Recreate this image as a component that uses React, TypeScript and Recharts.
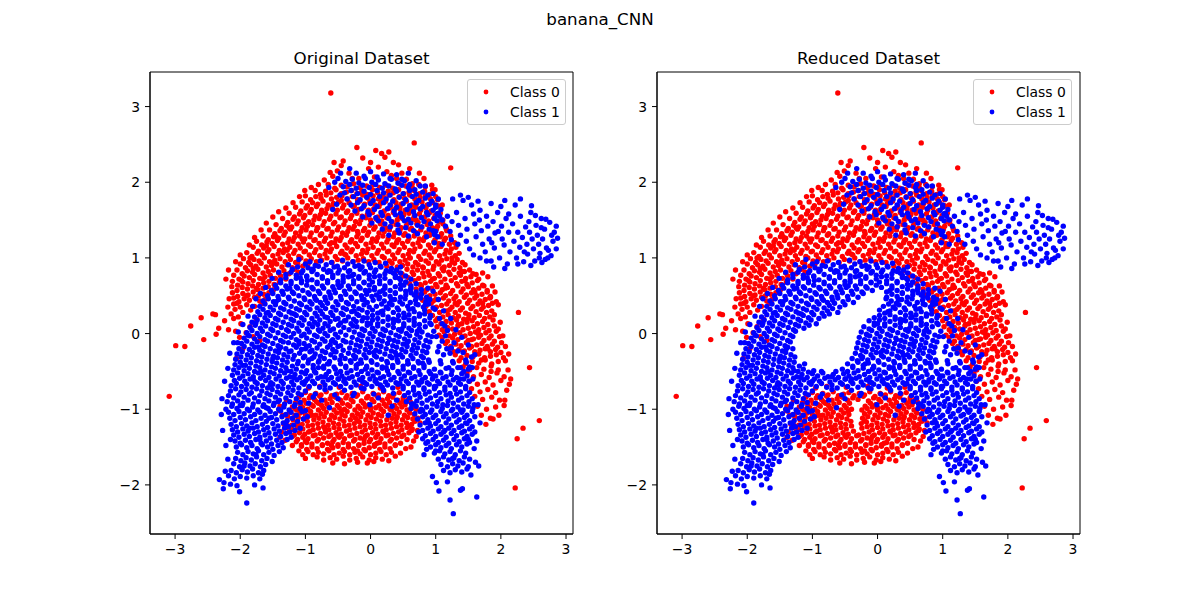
import React from 'react';
import { ScatterChart, Scatter, XAxis, YAxis, ReferenceArea } from 'recharts';

const figureTitle = 'banana_CNN';
const chartTitles = ['Original Dataset', 'Reduced Dataset'];
const seriesNames = ['Class 0', 'Class 1'];
const seriesColors = ['#ff0000', '#0000ff'];
const xTicks = [-3, -2, -1, 0, 1, 2, 3];
const yTicks = [-2, -1, 0, 1, 2, 3];
const xDomain: [number, number] = [-3.385, 3.107];
const yDomain: [number, number] = [-2.649, 3.457];

// values in hundredths: x,y, x,y, ...
// Class 0 points present in both datasets
const class0Main = [
  -61,318, 67,252, -21,246, 123,219, -309,-83, -299,-16, -285,-17, -276,10, -260,21, -256,-8, -242,26, -238,25, -237,-1, -233,7, -224,17, -218,5, -207,3, -210,20, -201,-5, 227,28, 244,-45, 259,-115, 234,-125, 225,-139, 222,-204, 213,-67, 206,-88, 188,-113, -170,-9, -206,-33, -185,9, -196,-20, -139,-137, -129,-124, 180,75, 183,47, 193,42,
  8,242, 17,238, 22,233, 28,240, 35,226, -12,232, 0,226, 43,223, -45,222, -33,212, -28,205, -3,218, 12,220, 25,214, 32,209, 48,212, 55,204, 60,218, 75,212, -18,205, 6,207, 40,205, 64,198, 82,205,
  -65,197, -55,192, -45,196, -36,194, -26,198, -16,193, -6,195, 4,197, 14,193, 24,196, 34,192, 44,198, 54,195, 64,193, 74,197, 84,194, 94,196,
  -85,189, -77,184, -69,188, -61,186, -53,190, -45,185, -37,187, -29,189, -21,185, -13,188, -5,184, 3,190, 11,186, 19,183, 27,188, 35,186, 43,190, 51,185, 59,187, 67,189, 75,185, 83,188, 91,184, 99,190,
  -100,182, -92,177, -84,181, -76,179, -68,183, -60,178, -52,180, -44,182, -36,178, -28,181, -20,177, -12,183, -4,179, 4,182, 12,178, 20,180, 28,183, 36,177, 44,181, 52,179, 60,183, 68,178, 76,180, 84,182, 92,178, 100,181,
  -105,174, -97,169, -89,173, -81,171, -73,175, -65,170, -57,172, -49,174, -41,170, -33,173, -25,169, -17,175, -9,171, -1,174, 7,170, 15,172, 23,175, 31,169, 39,173, 47,171, 55,175, 63,170, 71,172, 79,174, 87,170, 95,173, 103,169,
  -115,167, -107,162, -99,166, -91,164, -83,168, -75,163, -67,165, -59,167, -51,163, -43,166, -35,162, -27,168, -19,164, -11,167, -3,163, 5,165, 13,168, 21,162, 29,166, 37,164, 45,168, 53,163, 61,165, 69,167, 77,163, 85,166, 93,162, 101,168,
  -125,159, -117,154, -109,158, -101,156, -93,160, -85,155, -77,157, -69,159, -61,155, -53,158, -45,154, -37,160, -29,156, -21,159, -13,155, -5,157, 3,160, 11,154, 19,158, 27,156, 35,160, 43,155, 51,157, 59,159, 67,155, 75,158, 83,154, 91,160, 99,156, 107,159,
  -135,152, -127,147, -119,151, -111,149, -103,153, -95,148, -87,150, -79,152, -71,148, -63,151, -55,147, -47,153, -39,149, -31,152, -23,148, -15,150, -7,153, 1,147, 9,151, 17,149, 25,153, 33,148, 41,150, 49,152, 57,148, 65,151, 73,147, 81,153, 89,149, 97,152, 105,148, 111,150,
  -145,144, -137,139, -129,143, -121,141, -113,145, -105,140, -97,142, -89,144, -81,140, -73,143, -65,139, -57,145, -49,141, -41,144, -33,140, -25,142, -17,145, -9,139, -1,143, 7,141, 15,145, 23,140, 31,142, 39,144, 47,140, 55,143, 63,139, 71,145, 79,141, 87,144, 95,140, 103,142, 111,145, 116,139,
  -155,137, -147,132, -139,136, -131,134, -123,138, -115,133, -107,135, -99,137, -91,133, -83,136, -75,132, -67,138, -59,134, -51,137, -43,133, -35,135, -27,138, -19,132, -11,136, -3,134, 5,138, 13,133, 21,135, 29,137, 37,133, 45,136, 53,132, 61,138, 69,134, 77,137, 85,133, 93,135, 101,138, 109,132, 117,136,
  -165,129, -157,124, -149,128, -141,126, -133,130, -125,125, -117,127, -109,129, -101,125, -93,128, -85,124, -77,130, -69,126, -61,129, -53,125, -45,127, -37,130, -29,124, -21,128, -13,126, -5,130, 3,125, 11,127, 19,129, 27,125, 35,128, 43,124, 51,130, 59,126, 67,129, 75,125, 83,127, 91,130, 99,124, 107,128, 115,126, 123,129,
  -175,122, -167,117, -159,121, -151,119, -143,123, -135,118, -127,120, -119,122, -111,118, -103,121, -95,117, -87,123, -79,119, -71,122, -63,118, -55,120, -47,123, -39,117, -31,121, -23,119, -15,123, -7,118, 1,120, 9,122, 17,118, 25,121, 33,117, 41,123, 49,119, 57,122, 65,118, 73,120, 81,123, 89,117, 97,121, 105,119, 113,123, 121,118, 129,120,
  -180,114, -172,109, -164,113, -156,111, -148,115, -140,110, -132,112, -124,114, -116,110, -108,113, -100,109, -92,115, -84,111, -76,114, -68,110, -60,112, -52,115, -44,109, -36,113, -28,111, -20,115, -12,110, -4,112, 4,114, 12,110, 20,113, 28,109, 36,115, 44,111, 52,114, 60,110, 68,112, 76,115, 84,109, 92,113, 100,111, 108,115, 116,110, 124,112, 131,114,
  -190,107, -182,102, -174,106, -166,104, -158,108, -150,103, -142,105, -134,107, -126,103, -118,106, -110,102, -102,108, -94,104, -86,107, -78,103, -70,105, -62,108, -54,102, -46,106, -38,104, -30,108, -22,103, -14,105, -6,107, 2,103, 10,106, 18,102, 26,108, 34,104, 42,107, 50,103, 58,105, 66,108, 74,102, 82,106, 90,104, 98,108, 106,103, 114,105, 122,107, 130,103, 136,106,
  -195,99, -187,94, -179,98, -171,96, -163,100, -155,95, -147,97, -139,99, -131,95, -123,98, -115,94, -107,100, -99,96, -91,99, -83,95, -75,97, -67,100, -59,94, -51,98, -43,96, -35,100, -27,95, -19,97, -11,99, -3,95, 5,98, 13,94, 21,100, 29,96, 37,99, 45,95, 53,97, 61,100, 69,94, 77,98, 85,96, 93,100, 101,95, 109,97, 117,99, 125,95, 133,98, 141,94,
  -200,92, -192,87, -184,91, -176,89, -168,93, -160,88, -152,90, -144,92, -136,88, -128,91, -120,87, -112,93, -104,89, -96,92, 25,89, 33,93, 41,88, 49,90, 57,92, 65,88, 73,91, 81,87, 89,93, 97,89, 105,92, 113,88, 121,90, 129,93, 137,87, 145,91,
  -205,84, -197,79, -189,83, -181,81, -173,85, -165,80, -157,82, -149,84, -141,80, -133,83, -125,79, -117,85, -111,81, 40,83, 48,79, 56,85, 64,81, 72,84, 80,80, 88,82, 96,85, 104,79, 112,83, 120,81, 128,85, 136,80, 144,82, 152,84, 157,79,
  -210,77, -202,72, -194,76, -186,74, -178,78, -170,73, -162,75, -154,77, -146,73, -138,76, -130,72, 50,76, 58,74, 66,78, 74,73, 82,75, 90,77, 98,73, 106,76, 114,72, 122,78, 130,74, 138,77, 146,73, 154,75, 162,78, 166,72,
  -212,69, -204,64, -196,68, -188,66, -180,70, -172,65, -164,67, -156,69, -148,65, -140,68, 60,66, 68,70, 76,65, 84,67, 92,69, 100,65, 108,68, 116,64, 124,70, 132,66, 140,69, 148,65, 156,67, 164,70, 172,64,
  -213,62, -205,57, -197,61, -189,59, -181,63, -173,58, -165,60, -157,62, -149,58, 70,59, 78,63, 86,58, 94,60, 102,62, 110,58, 118,61, 126,57, 134,63, 142,59, 150,62, 158,58, 166,60, 174,63, 179,57,
  -212,54, -204,49, -196,53, -188,51, -180,55, -172,50, -164,52, -156,54, 75,51, 83,55, 91,50, 99,52, 107,54, 115,50, 123,53, 131,49, 139,55, 147,51, 155,54, 163,50, 171,52, 179,55, 184,49,
  -210,47, -202,42, -194,46, -186,44, -178,48, -170,43, -162,45, 80,44, 88,48, 96,43, 104,45, 112,47, 120,43, 128,46, 136,42, 144,48, 152,44, 160,47, 168,43, 176,45, 184,48,
  -210,39, -200,35, -190,38, -178,36, -166,40, 85,36, 93,40, 101,35, 109,37, 117,39, 125,35, 133,38, 141,34, 149,40, 157,36, 165,39, 173,35, 181,37, 187,40,
  -208,32, -196,28, -184,31, 90,29, 98,33, 106,28, 114,30, 122,32, 130,28, 138,31, 146,27, 154,33, 162,29, 170,32, 178,28, 186,30,
  -203,22, 95,24, 103,20, 111,22, 119,25, 127,21, 135,23, 143,19, 151,25, 159,21, 167,24, 175,20, 183,22, 190,25,
  100,17, 108,13, 116,16, 124,14, 132,18, 140,13, 148,15, 156,17, 164,13, 172,16, 180,12, 188,18,
  102,9, 110,5, 118,8, 126,6, 134,10, 142,5, 150,7, 158,9, 166,5, 174,8, 182,4, 190,10, 196,6,
  105,-2, 113,2, 121,-3, 129,-1, 137,1, 145,-3, 153,0, 161,2, 169,-2, 177,1, 185,-3, 193,3,
  110,-5, 118,-10, 126,-6, 134,-8, 142,-4, 150,-9, 158,-7, 166,-5, 174,-9, 182,-6, 190,-10, 198,-4,
  115,-13, 123,-17, 131,-14, 139,-16, 147,-12, 155,-17, 163,-15, 171,-13, 179,-17, 187,-14, 195,-18, 201,-12,
  120,-20, 128,-24, 136,-21, 144,-23, 152,-19, 160,-24, 168,-22, 176,-20, 184,-24, 192,-21, 200,-25,
  130,-28, 139,-32, 148,-29, 157,-31, 166,-27, 175,-32, 184,-30, 193,-28, 204,-32,
  136,-36, 146,-40, 156,-37, 166,-39, 176,-35, 186,-40, 196,-37, 207,-36,
  142,-44, 152,-48, 163,-45, 174,-47, 185,-43, 196,-48,
  148,-53, 158,-57, 170,-54, 182,-58, 194,-52, 205,-57,
  152,-63, 164,-67, 176,-64, 188,-68, 200,-62,
  155,-73, 168,-77, 180,-74, 192,-78,
  160,-83, 172,-87, 186,-84, 198,-88,
  164,-96, 178,-100, 192,-97, 170,-108, 184,-112,
  -100,-78, -92,-82, -84,-79, -76,-81, -68,-77, -60,-82, -52,-80, -44,-78, -36,-82, -28,-79, -20,-81, -12,-77, -4,-83, 4,-79, 12,-81, 20,-77, 28,-82, 36,-80, 44,-78, 52,-82,
  -110,-84, -102,-88, -94,-85, -86,-87, -78,-83, -70,-88, -62,-86, -54,-84, -46,-88, -38,-85, -30,-87, -22,-83, -14,-89, -6,-85, 2,-87, 10,-83, 18,-88, 26,-86, 34,-84, 42,-88, 50,-85, 58,-87,
  -115,-91, -107,-95, -99,-92, -91,-94, -83,-90, -75,-95, -67,-93, -59,-91, -51,-95, -43,-92, -19,-96, -11,-92, -3,-94, 5,-90, 13,-95, 21,-93, 29,-91, 37,-95, 45,-92, 53,-94, 61,-90,
  -120,-97, -112,-101, -104,-98, -96,-100, -88,-96, -80,-101, -72,-99, -64,-97, -56,-101, -48,-98, -40,-100, -24,-101, -16,-99, -8,-97, 0,-101, 8,-98, 16,-100, 24,-96, 32,-101, 40,-99, 48,-97, 56,-101, 64,-98,
  -124,-104, -116,-108, -108,-105, -100,-107, -92,-103, -84,-108, -76,-106, -68,-104, -60,-108, -52,-105, -44,-107, -20,-106, -12,-104, -4,-108, 4,-105, 12,-107, 20,-103, 28,-108, 36,-106, 44,-104, 52,-108, 60,-105, 67,-107,
  -127,-110, -119,-114, -111,-111, -103,-113, -95,-109, -87,-114, -79,-112, -71,-110, -63,-114, -55,-111, -47,-113, -23,-112, -15,-110, -7,-114, 1,-111, 9,-113, 17,-109, 25,-114, 33,-112, 41,-110, 49,-114, 57,-111, 65,-113,
  -129,-117, -121,-121, -113,-118, -105,-120, -97,-116, -89,-121, -81,-119, -73,-117, -65,-121, -57,-118, -49,-120, -41,-116, -25,-119, -17,-117, -9,-121, -1,-118, 7,-120, 15,-116, 23,-121, 31,-119, 39,-117, 47,-121, 55,-118, 63,-120, 68,-116,
  -128,-123, -120,-127, -112,-124, -104,-126, -96,-122, -88,-127, -80,-125, -72,-123, -64,-127, -56,-124, -48,-126, -40,-122, -24,-125, -16,-123, -8,-127, 0,-124, 8,-126, 16,-122, 24,-127, 32,-125, 40,-123, 48,-127, 56,-124, 64,-126,
  -125,-130, -117,-134, -109,-131, -101,-133, -93,-129, -85,-134, -77,-132, -69,-130, -61,-134, -53,-131, -45,-133, -37,-129, -29,-134, -21,-132, -13,-130, -5,-134, 3,-131, 11,-133, 19,-129, 27,-134, 35,-132, 43,-130, 51,-134, 59,-131, 63,-128,
  -120,-136, -112,-140, -104,-137, -96,-139, -88,-135, -80,-140, -72,-138, -64,-136, -56,-140, -48,-137, -40,-139, -32,-135, -24,-140, -16,-138, -8,-136, 0,-140, 8,-137, 16,-139, 24,-135, 32,-140, 40,-138, 48,-136, 56,-140,
  -114,-143, -106,-147, -98,-144, -90,-146, -82,-142, -74,-147, -66,-145, -58,-143, -50,-147, -42,-144, -34,-146, -26,-142, -18,-147, -10,-145, -2,-143, 6,-147, 14,-144, 22,-146, 30,-142, 38,-147, 46,-145,
  -106,-149, -98,-153, -90,-150, -82,-152, -74,-148, -66,-153, -58,-151, -50,-149, -42,-153, -34,-150, -26,-152, -18,-148, -10,-153, -2,-151, 6,-149, 14,-153, 22,-150, 30,-152, 38,-148,
  -96,-156, -88,-160, -80,-157, -72,-159, -64,-155, -56,-160, -48,-158, -40,-156, -32,-160, -24,-157, -16,-159, -8,-155, 0,-160, 8,-158, 16,-156, 24,-160, 32,-157,
  -82,-163, -72,-167, -62,-164, -52,-166, -42,-162, -32,-167, -22,-165, -12,-163, -2,-167, 8,-164, 18,-166,
  -58,-171, -40,-172, -20,-170, -5,-171, 5,-169,
  -135,-108, -133,-120, -139,-96, -129,-88, 70,-100, 73,-112, 72,-128, 66,-142, 54,-152, 46,-158, -104,-160,
];

// Class 0 scattered edge and in-between points, both datasets
const class0Fringe = [
  -222,72, -218,84, -207,95, -200,104, -186,117, -178,127, -168,137, -160,146, -150,154, -141,161, -130,166, -119,173, -109,181, -101,189, -91,193, -80,197, -71,203, -58,208, -51,215, -42,228, -56,226, -62,213,
  -217,46, -219,35, -214,26, -199,13, -191,1, -180,-4, -175,19,
  196,38, 199,15, 203,-3, 207,-17, 212,-27, 211,-48, 215,-60, 209,-75, 205,-95, 197,-108, 177,-120, 191,55, 187,63, 172,80, 95,190, 103,177, 110,170,
  -140,-102, -137,-130, -131,-141, -120,-148, -110,-155, -100,-165, 62,-150, 38,-162, 28,-168, 70,-136, 76,-118,
  -180,86, -165,72, -150,93, -128,110, -105,125, -82,140, -60,120, -40,105, -20,135, 0,150, 20,140, 40,120, 60,100, 80,88, 95,72, 115,60, 130,40, 150,20, 165,0, 180,-20,
  140,82, 125,100, 105,115, 88,130, 70,150, 45,165, 15,178, -15,186, -45,176, -75,160, -100,145, -125,140, -145,128, -160,116, -185,100, -198,70, -190,50, -175,60, -205,40,
  100,45, 118,30, 135,12, 155,-8, 170,-35, 185,-50, 160,55, 172,40, 145,70, 110,86,
  -110,-121, -90,-108, -70,-126, -50,-135, -20,-115, 0,-98, 20,-130, 40,-112, 60,-122, -100,-142, -60,-148, -20,-155, 10,-145, 30,-100, -80,-92, 50,-90, -115,-100, -45,-103, -10,-140, -95,-130,
  -95,-72, -78,-70, -48,-71, -15,-70, 15,-72, 42,-71,
];

// Class 0 points only in the original dataset
const class0Slit = [
  -35,-94, -27,-90, -32,-96, -36,-103, -28,-108, -39,-109, -31,-114, -33,-121, -32,-127,
];

// Class 1 points present in both datasets
const class1Main = [
  // upper cluster
  -32,218, -22,212, -10,208, 0,214, 10,207, 20,211, 30,205, 40,210, 48,204,
  -38,201, -28,204, -18,199, -8,205, 2,200, 12,203, 22,198, 32,204, 42,199, 52,202, 60,197,
  -42,194, -32,197, -22,192, -12,196, -2,193, 8,197, 18,192, 28,195, 38,191, 48,196, 58,193, 68,190, 76,195,
  -40,186, -30,189, -20,185, -10,188, 0,184, 10,189, 20,186, 30,183, 40,188, 50,185, 60,189, 70,184, 80,187, 88,183,
  -36,178, -26,181, -16,177, -6,180, 4,176, 14,181, 24,178, 34,175, 44,180, 54,177, 64,181, 74,176, 84,179, 94,175,
  -30,170, -20,173, -10,169, 0,172, 10,168, 20,173, 30,170, 40,167, 50,172, 60,169, 70,173, 80,168, 90,171, 100,167,
  -24,162, -14,165, -4,161, 6,164, 16,160, 26,165, 36,162, 46,159, 56,164, 66,161, 76,165, 86,160, 96,163, 104,159,
  -12,154, -2,157, 8,153, 18,156, 28,152, 38,157, 48,154, 58,151, 68,156, 78,153, 88,157, 98,152, 106,155,
  2,146, 12,149, 22,145, 32,148, 42,144, 52,149, 62,146, 72,143, 82,148, 92,145, 102,149,
  18,138, 30,141, 42,137, 54,140, 66,136, 78,141, 90,138, 100,135,
  28,130, 44,133, 58,129, 72,132, 86,128, 98,131,
  -64,193, -47,183, -52,171, -58,164,
  // right wing
  102,158, 110,150, 108,164, 118,155, 115,142, 125,148, 122,135, 132,160, 135,143, 138,130, 142,176, 145,152, 148,138, 147,122, 155,170, 158,158, 152,112, 160,145, 162,128, 158,104,
  168,163, 170,136, 172,118, 167,150, 178,155, 180,142, 182,125, 176,108, 185,96, 188,148, 191,133, 190,113, 195,160, 198,100, 201,142, 202,125, 205,117, 208,152, 210,92, 212,134,
  214,108, 218,145, 220,122, 222,170, 224,100, 226,134, 229,114, 230,155, 233,127, 235,95, 238,141, 240,118, 241,105, 244,134, 246,160, 248,125, 250,112, 252,96, 254,143, 256,130,
  258,118, 260,106, 262,152, 264,125, 267,138, 270,113, 272,100, 275,147, 278,130, 280,122, 282,134, 273,110, 268,98, 230,178, 212,158, 200,168, 185,172, 165,175, 150,180, 186,120,
  196,135, 236,108, 243,148, 259,100, 262,140, 96,136, 103,128, 110,118, 98,120,
  // main body
  -100,92, -93,95, -85,90, -77,96, -68,91, -60,94, -51,89, -43,97, -35,92, -27,95, -18,90, -10,96, -2,91, 7,94, 15,89, 23,93,
  -120,85, -112,88, -104,83, -96,87, -88,84, -80,89, -72,85, -64,83, -56,88, -48,84, -40,87, -32,83, -24,89, -16,85, -8,82, 0,87, 8,84, 16,88, 24,83, 32,86, 40,84, 46,88,
  -130,78, -122,81, -114,77, -106,80, -98,76, -90,82, -82,78, -74,75, -66,81, -58,77, -50,80, -42,76, -34,82, -26,78, -18,75, -10,80, -2,77, 6,81, 14,76, 22,79, 30,82, 38,77, 46,80, 54,76,
  -138,71, -130,74, -122,69, -114,73, -106,70, -98,75, -90,71, -82,68, -74,73, -66,70, -58,74, -50,69, -42,72, -34,75, -26,70, -18,73, -10,68, -2,72, 6,75, 14,70, 22,73, 30,69, 38,74, 46,71, 54,68, 62,72,
  -146,64, -138,67, -130,63, -122,66, -114,62, -106,67, -98,64, -90,61, -82,66, -74,63, -66,67, -58,62, -50,65, -42,68, -34,63, -26,66, -18,62, -10,67, -2,64, 6,61, 14,66, 22,63, 30,67, 38,62, 46,65, 54,68, 62,63, 70,66,
  -152,57, -144,60, -136,56, -128,59, -120,55, -112,60, -104,57, -96,54, -88,59, -80,56, -72,60, -64,55, -56,58, -48,61, -40,56, -32,59, -24,55, -16,60, -8,57, 14,55, 22,60, 30,57, 38,54, 46,59, 54,56, 62,60, 70,55, 78,58,
  -158,50, -150,53, -142,49, -134,52, -126,48, -118,53, -110,50, -102,47, -94,52, -86,49, -78,53, -70,48, -62,51, -54,54, -46,49, -38,52, -30,48, -22,53, 14,48, 22,52, 30,49, 38,53, 46,48, 54,51, 62,54, 70,49, 78,52, 86,48,
  -165,43, -157,46, -149,42, -141,45, -133,41, -125,46, -117,43, -109,40, -101,45, -93,42, -85,46, -77,41, -69,44, -61,47, -53,42, -45,45, -37,41, 13,46, 21,43, 29,40, 37,45, 45,42, 53,46, 61,41, 69,44, 77,47, 85,42, 91,45,
  -170,36, -162,39, -154,35, -146,38, -138,34, -130,39, -122,36, -114,33, -106,38, -98,35, -90,39, -82,34, -74,37, -66,40, -58,35, -50,38, 9,36, 17,39, 25,35, 33,38, 41,34, 49,39, 57,36, 65,33, 73,38, 81,35, 89,39, 96,34,
  -173,29, -165,32, -157,28, -149,31, -141,27, -133,32, -125,29, -117,26, -109,31, -101,28, -93,32, -85,27, -77,30, -69,33, -61,28, 3,31, 11,27, 19,30, 27,33, 35,28, 43,31, 51,27, 59,32, 67,29, 75,26, 83,31, 99,32,
  -178,22, -170,25, -162,21, -154,24, -146,20, -138,25, -130,22, -122,19, -114,24, -106,21, -98,25, -90,20, -82,23, -74,26, -5,21, 3,24, 11,20, 19,25, 27,22, 35,19, 43,24, 51,21, 59,25, 67,20, 75,23, 83,26, 91,21, 106,20,
  -182,15, -174,18, -166,14, -158,17, -150,13, -142,18, -134,15, -126,12, -118,17, -110,14, -102,18, -94,13, -13,17, -5,14, 3,18, 11,13, 19,16, 27,19, 35,14, 43,17, 51,13, 59,18, 67,15, 75,12, 83,17, 91,14, 110,13,
  -185,8, -177,11, -169,7, -161,10, -153,6, -145,11, -137,8, -129,5, -121,10, -113,7, -105,11, -21,9, -13,6, -5,11, 3,7, 11,10, 19,6, 27,11, 35,8, 43,5, 51,10, 59,7, 67,11, 75,6, 84,9, 93,12, 114,10,
  -190,1, -182,4, -174,0, -166,3, -158,-1, -150,4, -142,1, -134,-2, -126,3, -25,2, -17,-1, -9,4, -1,0, 7,3, 15,-1, 23,4, 31,1, 39,-2, 47,3, 55,0, 63,4, 71,-1, 79,2, 88,-2, 97,3, 118,4,
  -194,-6, -186,-3, -178,-7, -170,-4, -162,-8, -154,-3, -146,-6, -138,-9, -130,-4, -28,-5, -20,-8, -12,-3, -4,-7, 4,-4, 12,-8, 20,-3, 28,-6, 36,-9, 44,-4, 52,-7, 60,-3, 68,-8, 76,-5, 85,-9, 94,-4, 115,-3,
  -198,-13, -190,-10, -182,-14, -174,-11, -166,-15, -158,-10, -150,-13, -142,-16, -134,-11, -30,-12, -22,-15, -14,-10, -6,-14, 2,-11, 10,-15, 18,-10, 26,-13, 34,-16, 42,-11, 50,-14, 58,-10, 66,-15, 74,-12, 82,-16, 91,-11, 110,-10, 128,-12,
  -202,-20, -194,-17, -186,-21, -178,-18, -170,-22, -162,-17, -154,-20, -146,-23, -138,-18, -130,-20, -32,-19, -24,-22, -16,-17, -8,-21, 0,-18, 8,-22, 16,-17, 24,-20, 32,-23, 40,-18, 48,-21, 56,-17, 64,-22, 72,-19, 80,-23, 88,-18, 105,-17, 124,-19, 134,-23,
  -205,-27, -197,-24, -189,-28, -181,-25, -173,-29, -165,-24, -157,-27, -149,-30, -141,-25, -133,-28, -34,-26, -26,-29, -18,-24, -10,-28, -2,-25, 6,-29, 14,-24, 22,-27, 30,-30, 38,-25, 46,-28, 54,-24, 62,-29, 70,-26, 78,-30, 86,-25, 103,-24, 122,-26, 142,-25,
  -207,-34, -199,-31, -191,-35, -183,-32, -175,-36, -167,-31, -159,-34, -151,-37, -143,-32, -135,-35, -127,-31, -39,-33, -31,-36, -23,-31, -15,-35, -7,-32, 1,-36, 9,-31, 17,-34, 25,-37, 33,-32, 41,-35, 49,-31, 57,-36, 65,-33, 73,-37, 81,-32, 89,-35, 107,-36, 126,-37, 146,-35, 155,-31,
  -208,-41, -200,-38, -192,-42, -184,-39, -176,-43, -168,-38, -160,-41, -152,-44, -144,-39, -136,-42, -128,-38, -120,-43, -112,-40, -46,-40, -38,-43, -30,-38, -22,-42, -14,-39, -6,-43, 2,-38, 10,-41, 18,-44, 26,-39, 34,-42, 42,-38, 50,-43, 58,-40, 66,-44, 74,-39, 82,-42, 90,-38, 108,-40, 127,-39, 147,-38, 152,-44,
  -210,-48, -202,-45, -194,-49, -186,-46, -178,-50, -170,-45, -162,-48, -154,-51, -146,-46, -138,-49, -130,-45, -122,-50, -114,-47, -106,-51, -98,-49, -64,-50, -54,-47, -46,-50, -38,-45, -30,-49, -22,-46, -14,-50, -6,-45, 2,-48, 10,-51, 18,-46, 26,-49, 34,-45, 42,-50, 50,-47, 58,-51, 66,-46, 74,-49, 82,-45, 90,-50, 98,-47, 107,-51, 116,-46, 125,-49, 134,-45, 143,-50, 150,-47,
  -212,-55, -204,-52, -196,-56, -188,-53, -180,-57, -172,-52, -164,-55, -156,-58, -148,-53, -140,-56, -132,-52, -124,-57, -116,-54, -108,-58, -100,-53, -92,-56, -84,-52, -76,-57, -68,-54, -60,-58, -52,-53, -44,-56, -36,-52, -28,-57, -20,-54, -12,-58, -4,-53, 4,-56, 12,-52, 20,-57, 28,-54, 36,-58, 44,-53, 52,-56, 60,-52, 68,-57, 76,-54, 84,-58, 92,-53, 100,-56, 108,-52, 116,-57, 124,-54, 132,-58, 140,-53, 148,-56,
  -209,-62, -201,-59, -193,-63, -185,-60, -177,-64, -169,-59, -161,-62, -153,-65, -145,-60, -137,-63, -129,-59, -121,-64, -113,-61, -105,-65, -97,-60, -89,-63, -81,-59, -73,-64, -65,-61, -57,-65, -49,-60, -41,-63, -33,-59, -25,-64, -17,-61, -9,-65, -1,-60, 7,-63, 15,-59, 23,-64, 31,-61, 39,-65, 47,-60, 55,-63, 63,-59, 71,-64, 79,-61, 87,-65, 95,-60, 103,-63, 111,-59, 119,-64, 127,-61, 135,-65, 143,-60, 151,-63,
  -214,-69, -206,-66, -198,-70, -190,-67, -182,-71, -174,-66, -166,-69, -158,-72, -150,-67, -142,-70, -134,-66, -126,-71, -118,-68, -110,-72, -102,-67, -94,-70, -86,-66, -78,-71, -70,-68, -62,-72, -54,-67, -46,-70, -38,-66, -30,-71, -22,-68, -14,-72, -6,-67, 2,-70, 10,-66, 18,-71, 26,-68, 34,-72, 42,-67, 50,-70, 58,-66, 66,-71, 74,-68, 82,-72, 90,-67, 98,-70, 106,-66, 114,-71, 122,-68, 130,-72, 138,-67, 146,-70,
  -215,-76, -207,-73, -199,-77, -191,-74, -183,-78, -175,-73, -167,-76, -159,-79, -151,-74, -143,-77, -135,-73, -127,-78, -119,-75, -111,-79, -100,-76, -85,-80, -70,-74, -55,-81, -40,-75, -25,-79, -10,-73, 5,-80, 20,-75, 35,-79, 50,-73, 58,-78, 66,-75, 74,-79, 82,-74, 90,-77, 98,-73, 106,-78, 114,-75, 122,-79, 130,-74, 138,-77, 146,-73, 152,-78,
  -88,-84, -63,-98, -1,-94, 27,-108, -27,-82, -50,-86, 12,-85, 40,-88, -75,-88, 33,-96, -95,-92,
  // left arm
  -218,-82, -210,-85, -202,-81, -194,-84, -186,-80, -178,-85, -170,-82, -162,-86, -154,-81, -146,-84, -138,-80, -130,-85, -122,-82, -114,-86, -106,-81,
  -220,-90, -212,-93, -204,-89, -196,-92, -188,-88, -180,-93, -172,-90, -164,-94, -156,-89, -148,-92, -140,-88, -132,-93, -124,-90, -116,-94, -108,-91,
  -222,-100, -213,-96, -205,-99, -197,-95, -189,-100, -181,-97, -173,-101, -165,-96, -157,-99, -149,-95, -141,-100, -133,-97, -125,-101, -117,-96, -108,-99, -100,-102,
  -218,-104, -210,-107, -202,-103, -194,-106, -186,-102, -178,-107, -170,-104, -162,-108, -154,-103, -146,-106, -138,-102, -130,-107, -122,-104, -114,-108, -105,-103, -97,-110,
  -216,-112, -208,-115, -200,-111, -192,-114, -184,-110, -176,-115, -168,-112, -160,-116, -152,-111, -144,-114, -136,-110, -128,-115, -120,-112, -112,-116, -103,-113,
  -214,-120, -206,-123, -198,-119, -190,-122, -182,-118, -174,-123, -166,-120, -158,-124, -150,-119, -142,-122, -134,-118, -126,-123, -118,-121, -108,-125,
  -212,-127, -204,-130, -196,-126, -188,-129, -180,-125, -172,-130, -164,-127, -156,-131, -148,-126, -140,-129, -132,-125, -124,-130, -116,-128,
  -210,-134, -202,-137, -194,-133, -186,-136, -178,-132, -170,-137, -162,-134, -154,-138, -146,-133, -138,-136, -130,-132, -122,-137,
  -208,-142, -200,-145, -192,-141, -184,-144, -176,-140, -168,-145, -160,-142, -152,-146, -144,-141, -136,-144, -128,-140,
  -206,-150, -198,-147, -190,-151, -182,-148, -174,-152, -166,-147, -158,-150, -150,-153, -142,-148, -134,-151,
  -204,-157, -196,-160, -188,-156, -180,-159, -172,-155, -164,-160, -156,-157, -148,-161, -140,-156,
  -207,-165, -199,-168, -191,-164, -183,-167, -175,-163, -167,-168, -159,-165, -151,-169,
  -210,-172, -201,-176, -193,-171, -185,-175, -177,-172, -169,-176, -161,-173,
  -214,-181, -206,-184, -197,-180, -189,-183, -181,-179, -172,-184, -164,-181,
  -218,-188, -209,-192, -200,-189, -190,-191, -180,-188, -170,-192, -166,-186,
  -225,-197, -215,-199, -201,-209, -190,-224, -165,-204, -178,-200, -205,-201,
  // right arm
  52,-82, 60,-85, 68,-81, 76,-84, 84,-80, 92,-85, 100,-82, 108,-86, 116,-81, 124,-84, 132,-80, 140,-85, 148,-82, 156,-86,
  55,-90, 63,-93, 71,-89, 79,-92, 87,-88, 95,-93, 103,-90, 111,-94, 119,-89, 127,-92, 135,-88, 143,-93, 151,-90, 159,-94,
  62,-99, 70,-96, 78,-100, 86,-97, 94,-101, 102,-96, 110,-99, 118,-95, 126,-100, 134,-97, 142,-101, 150,-96, 157,-99,
  68,-106, 76,-103, 84,-107, 92,-104, 100,-108, 108,-103, 116,-106, 124,-102, 132,-107, 140,-104, 148,-108, 156,-103,
  72,-113, 80,-110, 88,-114, 96,-111, 104,-115, 112,-110, 120,-113, 128,-109, 136,-114, 144,-111, 152,-115, 160,-110,
  76,-121, 84,-118, 92,-122, 100,-119, 108,-123, 116,-118, 124,-121, 132,-117, 140,-122, 148,-119, 156,-123,
  80,-128, 88,-125, 96,-129, 104,-126, 112,-130, 120,-125, 128,-128, 136,-124, 144,-129, 152,-126, 160,-130,
  84,-135, 92,-132, 100,-136, 108,-133, 116,-137, 124,-132, 132,-135, 140,-131, 148,-136, 156,-133,
  88,-143, 96,-140, 104,-144, 112,-141, 120,-145, 128,-140, 136,-143, 144,-139, 152,-144,
  92,-150, 100,-147, 108,-151, 116,-148, 124,-152, 132,-147, 140,-150, 148,-146,
  98,-158, 106,-155, 114,-159, 122,-156, 130,-160, 138,-155, 146,-158,
  104,-166, 112,-163, 120,-167, 128,-164, 136,-168, 144,-163, 152,-166,
  108,-173, 118,-176, 126,-172, 134,-175, 142,-171, 150,-176, 166,-175,
  112,-181, 122,-184, 130,-180, 140,-183, 148,-179,
  95,-189, 105,-208, 127,-238, 122,-220, 138,-207, 141,-205, 163,-216, 85,-145, 82,-160,
];

// Class 1 scattered edge and in-between points, both datasets
const class1Fringe = [
  -110,98, -126,91, -141,81, -151,73, -161,61, -169,53, -176,46, -181,36, -188,23, -196,12, -203,2, -210,-12, -216,-26, -219,-46, -224,-63, -228,-86, -229,-107, -227,-128, -222,-148, -219,-166, -223,-182, -226,-205, -232,-193,
  165,-94, 168,-118, 163,-142, 159,-152, 161,-170, 154,-187, 118,-196, 101,-197, 86,-153, 80,-139, 74,-130, 157,-60, 156,-45, 160,-28, 150,-15, 140,-5, 131,5, 123,20, 112,30, 104,45, 96,56, 88,60,
  100,170, 126,178, 138,183, 206,176, 247,169, 253,156, 269,151, 285,142, 287,126, 285,112, 277,103, 263,94, 246,90, 226,92, 206,86, 189,88, 178,96, 168,100, 134,118, 124,124,
  -50,205, -46,212, -55,200, 58,212, 70,202, 84,195, 96,185, 104,178,
  -135,55, -121,27, -97,70, -83,44, -61,82, -45,63, -29,76, -13,88, 3,68, 19,57, 35,80, 51,64, 67,51, 84,38, 92,24, 72,3, 56,-12, 40,-29, 24,-45, 8,-61,
  -8,-47, -24,-33, -16,-2, 0,13, 16,29, 32,45, 48,6, 64,-21, 80,-39, 96,-56, 112,-28, 120,-45, 137,-60, 100,-70, 78,-64, 45,-66, 15,-68, -12,-64, -40,-60, -70,-57,
  -100,-63, -128,-49, -150,-33, -172,-18, -188,-2, -176,14, -160,27, -145,42, -124,60, -108,74, -90,85, -154,-68, -180,-60, -196,-42, -204,-12, -168,-50, -140,-20, -118,-58, -86,-50, -50,-60,
  -19,-40, 5,-25, 29,-8, 53,22, 70,39, 61,58, 44,73, 24,35, 40,18, 57,-40, 86,-25, 101,-4, 117,-20, 138,-45,
  -200,-95, -186,-125, -170,-140, -156,-112, -142,-90, -176,-160, -194,-175, -160,-98, -130,-120, -215,-140,
  90,-118, 114,-128, 138,-101, 100,-155, 126,-165, 146,-118, 80,-102, 66,-93, 150,-140,
];

// Class 1 points only in the original dataset
const class1Hole = [
  -2,57, 6,58,
  -14,50, -6,52, 2,49, 9,51,
  -29,46, -21,42, -13,45, -5,41, 4,44,
  -42,34, -34,39, -26,36, -18,33, -10,38, -2,35,
  -53,31, -45,27, -37,32, -29,29, -21,26, -13,31, -5,28,
  -66,21, -58,24, -50,20, -42,25, -34,22, -26,19, -18,24, -11,21,
  -86,15, -78,18, -70,13, -62,16, -54,19, -46,14, -38,17, -30,13, -22,16,
  -97,6, -89,9, -81,12, -73,7, -65,10, -57,6, -49,11, -41,8, -33,5, -27,10,
  -118,0, -110,3, -102,-1, -94,2, -86,-2, -78,3, -70,0, -62,4, -54,-1, -46,2, -38,-2,
  -122,-5, -114,-8, -106,-3, -98,-6, -90,-9, -82,-4, -74,-7, -66,-3, -58,-8, -50,-5, -42,-9,
  -126,-12, -118,-15, -110,-10, -102,-13, -94,-16, -86,-11, -78,-14, -70,-10, -62,-15, -54,-12, -46,-16, -38,-11,
  -122,-23, -114,-18, -106,-21, -98,-17, -90,-22, -82,-19, -74,-23, -66,-18, -58,-21, -50,-17, -42,-22,
  -125,-24, -117,-29, -109,-26, -101,-30, -93,-24, -85,-27, -77,-30, -69,-25, -61,-28, -53,-24, -45,-29,
  -119,-34, -111,-37, -103,-32, -95,-35, -87,-31, -79,-36, -71,-33, -63,-37, -55,-32, -47,-35,
  -104,-43, -96,-39, -88,-42, -80,-38, -72,-43, -64,-40, -56,-44,
  -88,-46, -80,-45, -72,-46,
  -100,-20, -80,5, -60,-10, -90,-33, -66,-40, -110,-14, -40,17, -25,30, -10,45, -70,22, -55,-24,
];

type Pt = { x: number; y: number };
function toPoints(flat: number[]): Pt[] {
  const out: Pt[] = [];
  for (let i = 0; i + 1 < flat.length; i += 2) out.push({ x: flat[i] / 100, y: flat[i + 1] / 100 });
  return out;
}

const originalRed = toPoints([...class0Main, ...class0Fringe, ...class0Slit]);
const originalBlue = toPoints([...class1Main, ...class1Fringe, ...class1Hole]);
const reducedRed = toPoints([...class0Main, ...class0Fringe]);
const reducedBlue = toPoints([...class1Main, ...class1Fringe]);

const FONT = '"DejaVu Sans", Verdana, sans-serif';
const fmt = (v: number) => String(v).replace('-', '\u2212');
const DOT_R = 2.7;

const makeDot = (color: string) => (props: any) => {
  const { cx, cy } = props;
  if (cx == null || cy == null) return <g />;
  return <circle cx={cx} cy={cy} r={DOT_R} fill={color} />;
};
const redDot = makeDot(seriesColors[0]);
const blueDot = makeDot(seriesColors[1]);

function LegendBox({ left }: { left: number }) {
  return (
    <div
      style={{
        position: 'absolute', left, top: 79, width: 99, height: 46, boxSizing: 'border-box',
        border: '1px solid #cccccc', borderRadius: 3, background: 'rgba(255,255,255,0.8)',
        fontFamily: FONT, fontSize: 13.9, color: '#000',
      }}
    >
      {seriesNames.map((n, i) => (
        <div key={n} style={{ position: 'absolute', left: 0, top: 3.3 + i * 20, height: 18, display: 'flex', alignItems: 'center' }}>
          <svg width={40} height={18} style={{ display: 'block' }}>
            <circle cx={18} cy={9} r={2.4} fill={seriesColors[i]} />
          </svg>
          <span style={{ marginLeft: 2, lineHeight: '18px', whiteSpace: 'nowrap' }}>{n}</span>
        </div>
      ))}
    </div>
  );
}

function Panel({ offsetX, plotLeft, plotRight, red, blue, legendLeft }: { offsetX: number; plotLeft: number; plotRight: number; red: Pt[]; blue: Pt[]; legendLeft: number }) {
  const yAxisW = 50;
  const xAxisH = 30;
  const tickStyle = { fill: '#000', fontSize: 13.9, fontFamily: FONT };
  return (
    <div style={{ position: 'absolute', left: offsetX, top: 0, width: 600, height: 600 }}>
      <ScatterChart
        width={600}
        height={600}
        margin={{ top: 72, bottom: 600 - 534 - xAxisH, left: plotLeft - offsetX - yAxisW, right: offsetX + 600 - plotRight }}
      >
        <XAxis type="number" dataKey="x" domain={xDomain} ticks={xTicks} allowDataOverflow interval={0} tickFormatter={fmt}
          height={xAxisH} tickSize={5} tickMargin={5} axisLine={{ stroke: '#000' }} tickLine={{ stroke: '#000' }} tick={tickStyle} />
        <YAxis type="number" dataKey="y" domain={yDomain} ticks={yTicks} allowDataOverflow interval={0} tickFormatter={fmt}
          width={yAxisW} tickSize={5} tickMargin={5} axisLine={{ stroke: '#000' }} tickLine={{ stroke: '#000' }} tick={tickStyle} />
        <ReferenceArea x1={xDomain[0]} x2={xDomain[1]} y1={yDomain[0]} y2={yDomain[1]} fill="none" fillOpacity={0} stroke="#000" strokeWidth={1} ifOverflow="visible" />
        <Scatter name={seriesNames[0]} data={red} fill={seriesColors[0]} shape={redDot} isAnimationActive={false} />
        <Scatter name={seriesNames[1]} data={blue} fill={seriesColors[1]} shape={blueDot} isAnimationActive={false} />
      </ScatterChart>
      <LegendBox left={legendLeft} />
    </div>
  );
}

export default function App() {
  return (
    <div style={{ position: 'absolute', left: 0, top: 0, width: 1200, height: 600, background: '#fff', overflow: 'hidden' }}>
      <Panel offsetX={0} plotLeft={150} plotRight={573} red={originalRed} blue={originalBlue} legendLeft={467} />
      <Panel offsetX={600} plotLeft={657} plotRight={1080} red={reducedRed} blue={reducedBlue} legendLeft={373} />
      <svg width={1200} height={600} style={{ position: 'absolute', left: 0, top: 0, pointerEvents: 'none' }}>
        <text x={600} y={25} textAnchor="middle" fontFamily={FONT} fontSize={16.7} fill="#000">{figureTitle}</text>
        <text x={361.5} y={64} textAnchor="middle" fontFamily={FONT} fontSize={16.7} fill="#000">{chartTitles[0]}</text>
        <text x={868.5} y={64} textAnchor="middle" fontFamily={FONT} fontSize={16.7} fill="#000">{chartTitles[1]}</text>
      </svg>
    </div>
  );
}
